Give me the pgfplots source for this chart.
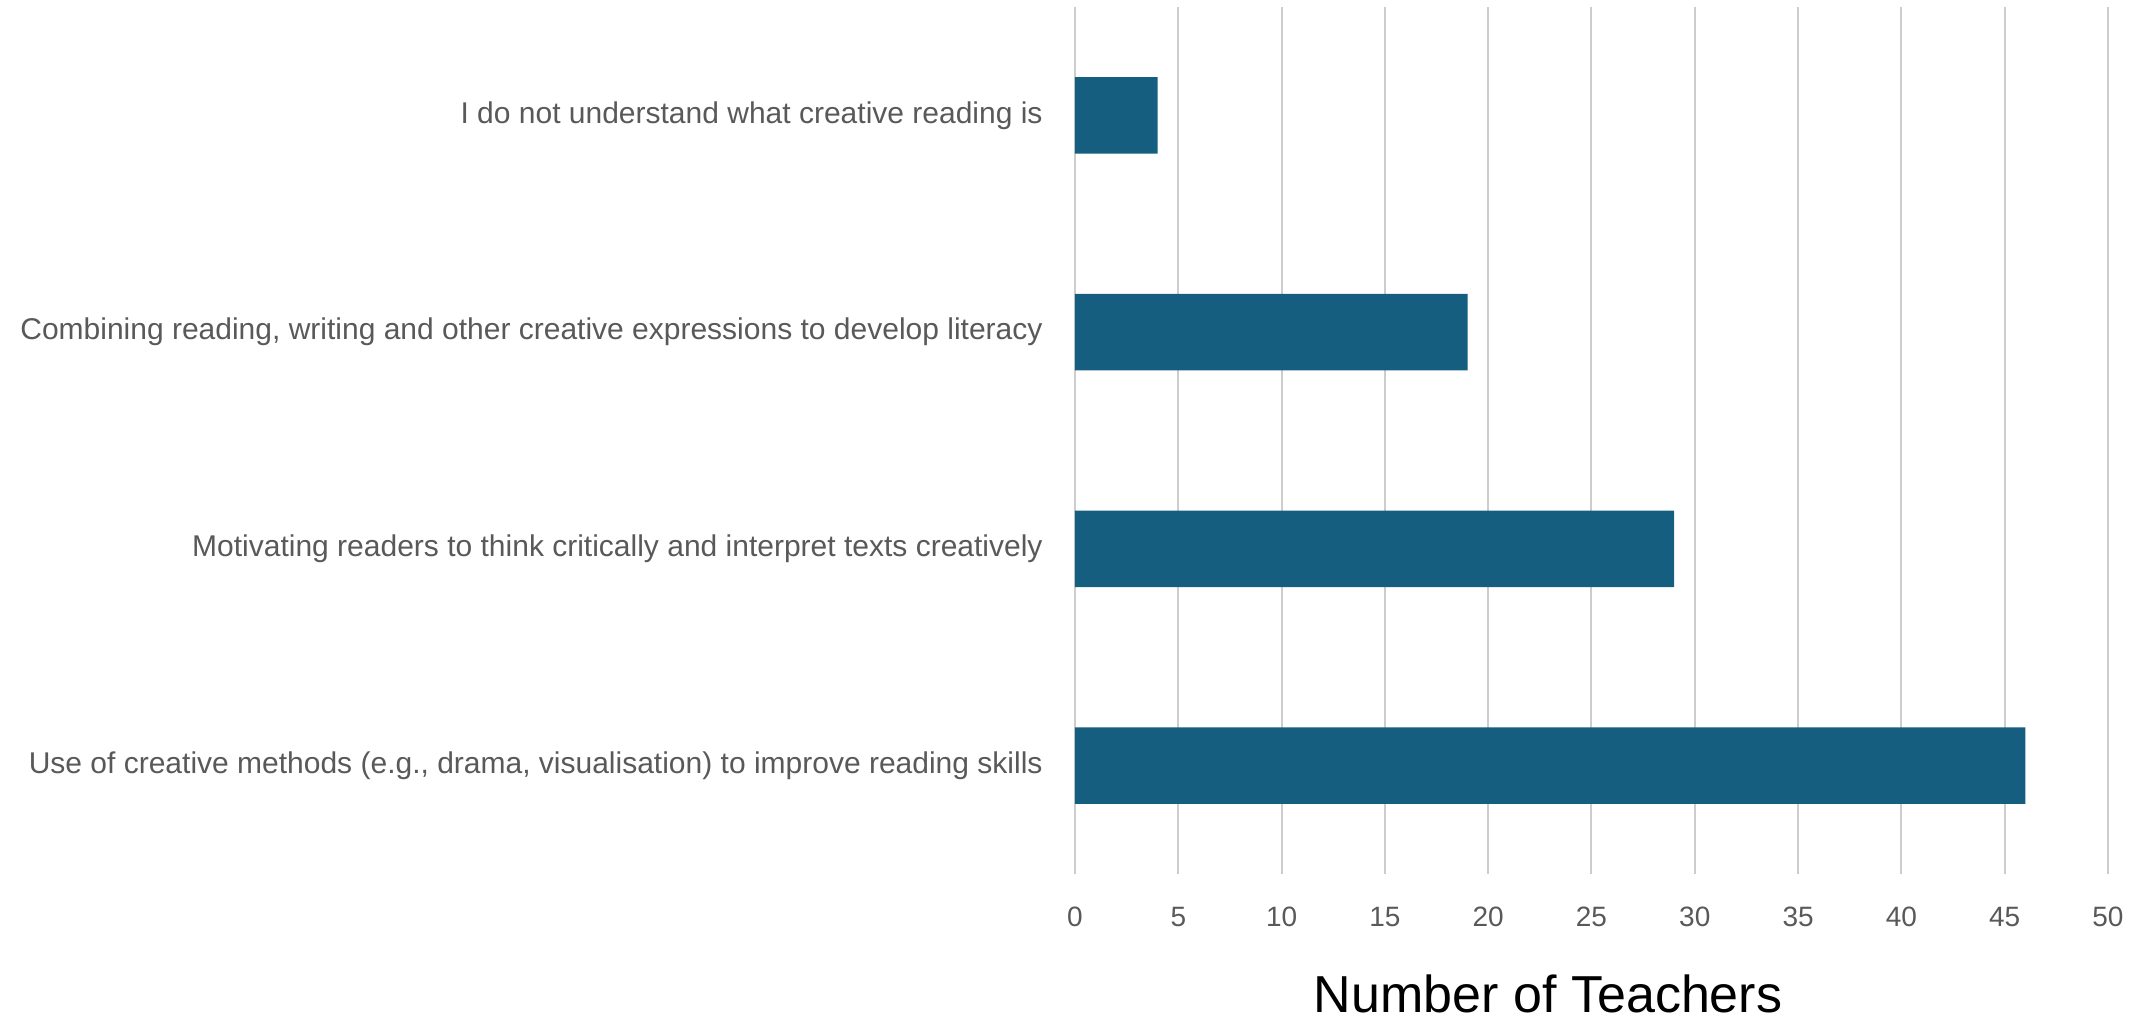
\documentclass[border=0pt]{standalone}
\usepackage{fontspec}
\setmainfont{Liberation Sans}
\usepackage{pgfplots}
\pgfplotsset{compat=1.18}
\definecolor{barblue}{HTML}{165E80}
\definecolor{gridgray}{HTML}{CDCDCD}
\definecolor{labgray}{HTML}{595959}
\begin{document}
\begin{tikzpicture}
\path[use as bounding box] (-537.5pt,-72pt) rectangle (532pt,437pt);
\begin{axis}[
  at={(0,0)}, anchor=south west,
  scale only axis, width=516.5pt, height=433.5pt,
  xbar, bar width=38.25pt,
  xmin=0, xmax=50, ymin=-0.5, ymax=3.5, y dir=reverse,
  xtick={0,5,...,50}, ytick={0,1,2,3},
  yticklabels={I do not understand what creative reading is,
    {Combining reading, writing and other creative expressions to develop literacy},
    Motivating readers to think critically and interpret texts creatively,
    {Use of creative methods (e.g., drama, visualisation) to improve reading skills}},
  axis line style={draw=none},
  major tick length=0pt, tick style={draw=none},
  xmajorgrids, major grid style={gridgray, line width=1pt},
  /pgf/number format/assume math mode=true,
  ticklabel style={text=labgray},
  xticklabel style={font=\fontsize{14}{16}\selectfont, inner sep=0pt, yshift=-16.5pt},
  yticklabel style={font=\fontsize{15}{17}\selectfont, inner sep=0pt, xshift=-16pt},
  xlabel={Number of Teachers},
  xlabel style={at={(axis description cs:0.458,0)}, anchor=base, inner sep=0pt, yshift=-69pt, font=\fontsize{26}{30}\selectfont, text=black},
]
\addplot[fill=barblue, draw=none] coordinates {(4,0) (19,1) (29,2) (46,3)};
\end{axis}
\end{tikzpicture}
\end{document}
